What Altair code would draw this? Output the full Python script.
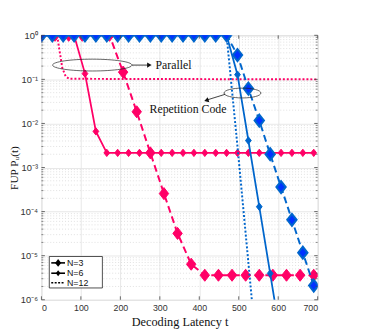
import altair as alt
import pandas as pd

# ---------------- data ----------------
T25 = [0, 27.6, 55.2, 82.8, 110.4, 138.0, 165.6, 193.2, 220.8, 248.4, 276.0, 303.6, 331.2,
       358.8, 386.4, 414.0, 441.6, 469.2, 496.8, 524.4, 552.0, 579.6, 607.2, 634.8, 662.4, 690.0]
T20 = [0, 34.5, 69.0, 103.5, 138.0, 172.5, 207.0, 241.5, 276.0, 310.5, 345.0, 379.5, 414.0,
       448.5, 483.0, 517.5, 552.0, 586.5, 621.0, 655.5, 690.0]

# Parallel (pink)
par_n3 = [1, 1, 1, 1, 1, 1, 0.146, 0.0184, 0.00215, 2.56e-4, 3.2e-5, 6.4e-6,
          3.6e-6, 3.6e-6, 3.6e-6, 3.6e-6, 3.6e-6, 3.6e-6, 3.6e-6, 3.6e-6, 3.6e-6]
par_n6 = [1, 1, 1, 1, 0.135, 0.0066, 0.00215, 0.00215, 0.00215, 0.00215, 0.00215, 0.00215,
          0.00215, 0.00215, 0.00215, 0.00215, 0.00215, 0.00215, 0.00215, 0.00215, 0.00215,
          0.00215, 0.00215, 0.00215, 0.00215, 0.00215]
par_n12_t = [0, 38, 41, 45, 49, 53, 61.5, 70, 700]
par_n12 = [1, 1, 0.85, 0.5, 0.3, 0.18, 0.117, 0.103, 0.1]

# Repetition code (blue)
rep_n3 = [1, 1, 1, 1, 1, 1, 1, 1, 1, 1, 1, 1, 1, 1, 1, 1, 1, 1,
          0.357, 0.062, 0.0116, 0.00201, 3.6e-4, 6.5e-5, 1.17e-5, 2.1e-6]
rep_n6_t = T25[:23]
rep_n6 = [1, 1, 1, 1, 1, 1, 1, 1, 1, 1, 1, 1, 1, 1, 1, 1, 1, 1,
          0.128, 0.0041, 1.29e-4, 3.96e-6, 1.2e-7]
rep_n12_t = [0, 469.2, 496.8, 524.4, 552.0]
rep_n12 = [1, 1, 0.003, 7e-6, 1.5e-8]

x_ticks = [0, 100, 200, 300, 400, 500, 600, 700]
y_ticks = [1e-6, 1e-5, 1e-4, 1e-3, 1e-2, 1e-1, 1]
y_minor = [k * 10.0 ** e for e in range(-6, 0) for k in range(2, 10)]

# ---------------- styling ----------------
PINK = "#FF0066"
BLUE = "#0066CC"
BLUE_FILL = "#0033FF"
W, H = 281, 269
DIAMOND = "M0,-1L0.78,0L0,1L-0.78,0Z"

xs = alt.Scale(domain=[0, 700], nice=False, zero=False)
ys = alt.Scale(type="log", domain=[1e-6, 1], nice=False)

label_expr = ("datum.value > 0.5 ? '10⁰' : datum.value > 0.05 ? '10⁻¹' : "
              "datum.value > 0.005 ? '10⁻²' : datum.value > 0.0005 ? '10⁻³' : "
              "datum.value > 0.00005 ? '10⁻⁴' : datum.value > 0.000005 ? '10⁻⁵' : '10⁻⁶'")

x_axis = alt.Axis(values=x_ticks, grid=True, gridColor="#e2e2e2", gridWidth=0.8,
                  ticks=False, domain=False, labelFont="Liberation Sans", labelFontSize=9,
                  labelColor="#333333", labelPadding=4, title="Decoding Latency t",
                  titleFont="Liberation Serif", titleFontSize=12.5, titleFontWeight="normal",
                  titleColor="#111111", titlePadding=3)
y_axis = alt.Axis(values=y_ticks, grid=True, gridColor="#e2e2e2", gridWidth=0.8,
                  ticks=False, domain=False, labelFont="Liberation Sans", labelFontSize=9.5,
                  labelColor="#333333", labelPadding=4, labelExpr=label_expr,
                  title="FUP Pᵤ(t)", titleFont="Liberation Serif", titleFontSize=11.5,
                  titleFontWeight="normal", titleColor="#111111", titlePadding=1)


def X(field="t"):
    return alt.X(f"{field}:Q", scale=xs, axis=x_axis)


def Y(field="v"):
    return alt.Y(f"{field}:Q", scale=ys, axis=y_axis)


layers = []

# minor dotted grid (y)
minor_df = pd.DataFrame({"v": y_minor})
layers.append(alt.Chart(minor_df).mark_rule(color="#d4d4d4", strokeWidth=0.7, strokeDash=[1, 2])
              .encode(y=Y(), x=alt.value(0), x2=alt.value(W)))

major_x = pd.DataFrame({"t": x_ticks})
layers.append(alt.Chart(major_x).mark_rule(opacity=0).encode(x=X(), y=alt.value(0), y2=alt.value(H)))


def series(t, v, color, width, dash=None, marker=None, msize=0, fill=None, mstroke=1.0):
    df = pd.DataFrame({"t": t, "v": v})
    base = alt.Chart(df).encode(x=X(), y=Y())
    kw = dict(color=color, strokeWidth=width, clip=True)
    if dash:
        kw["strokeDash"] = dash
    out = [base.mark_line(**kw)]
    if marker:
        out.append(base.mark_point(shape=marker, size=msize, filled=True, fill=fill or color,
                                   stroke=color, strokeWidth=mstroke, opacity=1, clip=True))
    return out


# Parallel (pink)
layers += series(par_n12_t, par_n12, PINK, 2, dash=[2, 2])
layers += series(T25, par_n6, PINK, 1.8, marker=DIAMOND, msize=56, mstroke=1)
layers += series(T20, par_n3, PINK, 2, dash=[7, 4], marker=DIAMOND, msize=150, mstroke=1)
# Repetition code (blue)
layers += series(rep_n12_t, rep_n12, BLUE, 2, dash=[2, 2])
layers += series(rep_n6_t, rep_n6, BLUE, 1.8, marker=DIAMOND, msize=56, mstroke=1)
layers += series(T25, rep_n3, BLUE, 2, dash=[7, 4], marker=DIAMOND, msize=150,
                 fill=BLUE_FILL, mstroke=2)

# inward ticks on all four sides
TICK = "#444444"
yt = pd.DataFrame({"v": y_ticks})
ym = pd.DataFrame({"v": y_minor})
xt = pd.DataFrame({"t": x_ticks})
layers.append(alt.Chart(yt).mark_rule(color=TICK, strokeWidth=0.8).encode(y=Y(), x=alt.value(0), x2=alt.value(3.5)))
layers.append(alt.Chart(yt).mark_rule(color=TICK, strokeWidth=0.8).encode(y=Y(), x=alt.value(W), x2=alt.value(W - 3.5)))
layers.append(alt.Chart(ym).mark_rule(color=TICK, strokeWidth=0.6).encode(y=Y(), x=alt.value(0), x2=alt.value(2)))
layers.append(alt.Chart(ym).mark_rule(color=TICK, strokeWidth=0.6).encode(y=Y(), x=alt.value(W), x2=alt.value(W - 2)))
layers.append(alt.Chart(xt).mark_rule(color=TICK, strokeWidth=0.8).encode(x=X(), y=alt.value(H), y2=alt.value(H - 3.5)))
layers.append(alt.Chart(xt).mark_rule(color=TICK, strokeWidth=0.8).encode(x=X(), y=alt.value(0), y2=alt.value(3.5)))

# annotations
ELL1 = "M-1,0A1,0.149,0,1,0,1,0A1,0.149,0,1,0,-1,0"
ELL2 = "M-1,0A1,0.266,0,1,0,1,0A1,0.266,0,1,0,-1,0"
ell = pd.DataFrame({"t": [128.8], "v": [0.211]})
layers.append(alt.Chart(ell).mark_point(shape=ELL1, size=6512, filled=False, stroke="#222222",
                                        strokeWidth=0.7, opacity=1).encode(x=X(), y=Y()))
ell2 = pd.DataFrame({"t": [509.4], "v": [0.049]})
layers.append(alt.Chart(ell2).mark_point(shape=ELL2, size=1414, filled=False, stroke="#222222",
                                         strokeWidth=0.7, opacity=1).encode(x=X(), y=Y()))
arr1 = pd.DataFrame({"t": [229.2, 272.0], "v": [0.211, 0.211]})
layers.append(alt.Chart(arr1).mark_line(color="#111111", strokeWidth=0.8).encode(x=X(), y=Y()))
head1 = pd.DataFrame({"t": [273.5], "v": [0.211]})
layers.append(alt.Chart(head1).mark_point(shape="triangle-right", size=28, filled=True, color="#111111",
                                          opacity=1).encode(x=X(), y=Y()))
arr2 = pd.DataFrame({"t": [465.8, 420.0], "v": [0.0459, 0.0342]})
layers.append(alt.Chart(arr2).mark_line(color="#111111", strokeWidth=0.8).encode(x=X(), y=Y()))
head2 = pd.DataFrame({"t": [418.0], "v": [0.0333]})
layers.append(alt.Chart(head2).mark_point(shape="triangle-right", size=28, filled=True, color="#111111",
                                          angle=162, opacity=1).encode(x=X(), y=Y()))
txt = pd.DataFrame({"t": [289.0, 274.0], "v": [0.211, 0.0209], "s": ["Parallel", "Repetition Code"]})
layers.append(alt.Chart(txt).mark_text(align="left", baseline="middle", font="Liberation Serif",
                                       fontSize=12, color="#111111").encode(x=X(), y=Y(), text="s:N"))

# manual legend
one = pd.DataFrame({"a": [0]})
layers.append(alt.Chart(one).mark_rect(fill="white", stroke="#222222", strokeWidth=0.8)
              .encode(x=alt.value(8), x2=alt.value(62), y=alt.value(225), y2=alt.value(257)))
rows = [(231.5, "N=3", None, 64), (242, "N=6", None, 36), (251.7, "N=12", [2, 1.5], 0)]
for yy, lab, dash, ms in rows:
    kw = dict(color="black", strokeWidth=1.6)
    if dash:
        kw["strokeDash"] = dash
    layers.append(alt.Chart(one).mark_rule(**kw).encode(x=alt.value(10), x2=alt.value(24), y=alt.value(yy)))
    if ms:
        layers.append(alt.Chart(one).mark_point(shape=DIAMOND, size=ms, filled=True, color="black",
                                                opacity=1).encode(x=alt.value(17), y=alt.value(yy)))
    layers.append(alt.Chart(one).mark_text(align="left", baseline="middle", font="Liberation Sans",
                                           fontSize=9, color="#111111")
                  .encode(x=alt.value(26), y=alt.value(yy), text=alt.value(lab)))

chart = (alt.layer(*layers)
         .properties(width=W, height=H, autosize=alt.AutoSizeParams(type="none"),
                     padding={"left": 34, "top": 25, "right": 40, "bottom": 28})
         .configure_view(stroke="#555555", strokeWidth=0.8)
         .configure(background="white"))

chart.save("out.html", embed_options={"renderer": "svg", "actions": False})
